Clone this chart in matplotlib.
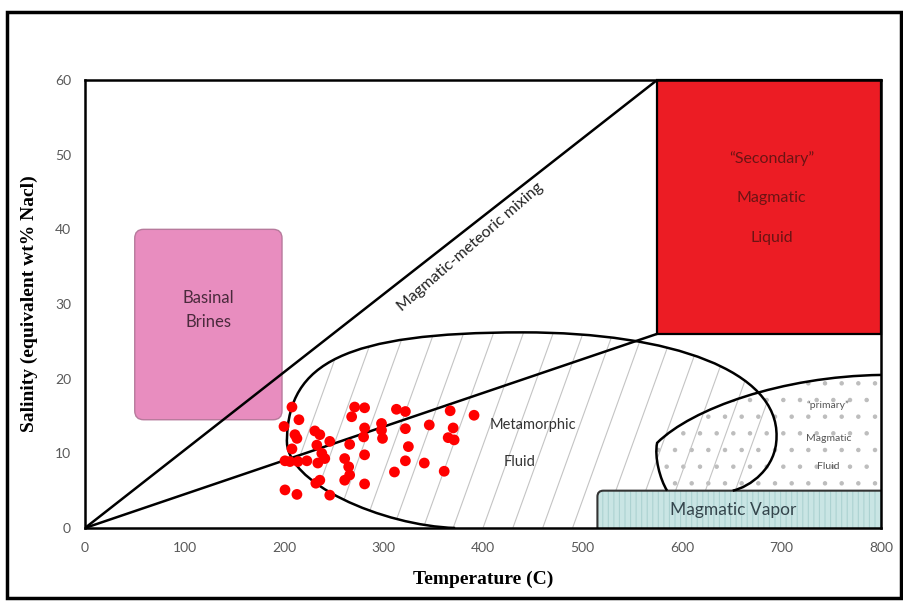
import numpy as np
import matplotlib
matplotlib.use("Agg")
import matplotlib.pyplot as plt
from matplotlib.path import Path
from matplotlib.patches import PathPatch, FancyBboxPatch, Rectangle
from matplotlib.collections import LineCollection

# fluid inclusion data: homogenisation temperature (C) and salinity (wt% NaCl eq.)
temp = [208, 215, 200, 211, 213, 208, 231, 236, 246, 233, 238, 241, 234, 201, 206,
        214, 223, 236, 232, 201, 213, 246, 271, 281, 268, 313, 322, 367, 391, 298,
        281, 280, 298, 299, 322, 346, 370, 365, 371, 266, 325, 261, 281, 265, 266,
        261, 322, 341, 311, 361, 281]
salinity = [16.2, 14.5, 13.6, 12.5, 12.0, 10.6, 13.0, 12.5, 11.6, 11.1, 10.0, 9.3, 8.7,
            9.0, 8.9, 8.9, 9.0, 6.4, 6.0, 5.1, 4.5, 4.4, 16.2, 16.1, 14.9, 15.9, 15.6,
            15.7, 15.1, 14.0, 13.4, 12.2, 13.1, 12.0, 13.3, 13.8, 13.4, 12.1, 11.8,
            11.2, 10.9, 9.3, 9.8, 8.2, 7.1, 6.4, 9.0, 8.7, 7.5, 7.6, 5.9]

x_ticks = [0, 100, 200, 300, 400, 500, 600, 700, 800]
y_ticks = [0, 10, 20, 30, 40, 50, 60]

# field boundaries (temperature, salinity)
mix_upper = [(0, 0), (575, 60)]
mix_lower = [(0, 0), (575, 26)]
secondary_box = (575, 26, 800, 60)      # x0, y0, x1, y1
brines_box = (50, 14.5, 198, 40)
vapor_box = (515, 0, 800, 5)

# metamorphic fluid outline, cubic bezier control points
meta_pts = [(372, 0), (300, 0.3), (199, 6.0), (203, 12),
            (205, 22), (260, 26.2), (440, 26.2),
            (590, 26.2), (697, 21), (695, 12.2),
            (695, 8), (668, 5.5), (651, 5)]
# "primary" magmatic fluid upper boundary
prim_pts = [(585, 5), (578, 6.5), (572, 9.5), (575, 11.4),
            (610, 16), (700, 20.3), (800, 20.5)]

C4 = Path.CURVE4

fig = plt.figure(figsize=(9.04, 6.03), dpi=100)
ax = fig.add_axes([85/904, 75/603, 796/904, 448/603])
ax.set_xlim(0, 800)
ax.set_ylim(0, 60)

asp = (796/800) / (448/60)   # data-y per data-x at equal pixel size

# primary magmatic fluid stipple
plt.rcParams['hatch.linewidth'] = 0.8
prim_fill = Path(prim_pts + [(800, 5), (585, 5), (585, 5)],
                 [Path.MOVETO, C4, C4, C4, C4, C4, C4, Path.LINETO, Path.LINETO, Path.CLOSEPOLY])
ax.add_patch(PathPatch(prim_fill, facecolor='white', edgecolor='#bdbdbd', lw=0,
                       hatch='.', zorder=1))

# metamorphic fluid hatching
meta_fill = Path(meta_pts + [(651, 0), (372, 0), (372, 0)],
                 [Path.MOVETO] + [C4] * 12 + [Path.LINETO, Path.LINETO, Path.CLOSEPOLY])
meta_patch = PathPatch(meta_fill, facecolor='none', edgecolor='none', lw=0)
ax.add_patch(meta_patch)
slope = 0.37
segs = [[(x0, 0), (x0 + 30/slope, 30)] for x0 in np.arange(-80, 760, 30)]
hatch = LineCollection(segs, colors='#c4c4c4', linewidths=0.8, zorder=1)
hatch.set_clip_path(meta_patch)
ax.add_collection(hatch)

# magmatic vapor
vx0, vy0, vx1, vy1 = vapor_box
ax.add_patch(FancyBboxPatch((vx0, vy0 - 3), vx1 - vx0 + 20, vy1 - vy0 + 3,
                            boxstyle='round,pad=0,rounding_size=6', mutation_aspect=asp,
                            facecolor='#c9e5e4', edgecolor='#acd2d1', lw=0,
                            hatch='|||', zorder=2))
ax.add_patch(FancyBboxPatch((vx0, vy0 - 3), vx1 - vx0 + 20, vy1 - vy0 + 3,
                            boxstyle='round,pad=0,rounding_size=6', mutation_aspect=asp,
                            facecolor='none', edgecolor='#333333', lw=1.5, zorder=2))

# basinal brines
bx0, by0, bx1, by1 = brines_box
ax.add_patch(FancyBboxPatch((bx0, by0), bx1 - bx0, by1 - by0,
                            boxstyle='round,pad=0,rounding_size=9', mutation_aspect=asp,
                            facecolor='#e88dbf', edgecolor='#b77a9c', lw=1, zorder=2))

# secondary magmatic liquid
sx0, sy0, sx1, sy1 = secondary_box
ax.add_patch(Rectangle((sx0, sy0), sx1 - sx0, sy1 - sy0, facecolor='#ec1c24',
                       edgecolor='black', lw=1.6, zorder=2, clip_on=False))

# boundary lines
for seg in (mix_upper, mix_lower):
    xs, ys = zip(*seg)
    ax.plot(xs, ys, color='black', lw=1.8, zorder=3)
ax.add_patch(PathPatch(Path(meta_pts, [Path.MOVETO] + [C4] * 12), facecolor='none',
                       edgecolor='black', lw=1.8, zorder=3))
ax.add_patch(PathPatch(Path(prim_pts, [Path.MOVETO] + [C4] * 6), facecolor='none',
                       edgecolor='black', lw=1.8, zorder=3))

# data
ax.scatter(temp, salinity, s=60, color='#ff0000', edgecolors='none', zorder=4)

# labels
sans = 'Lato'
ax.text(124, 30.8, 'Basinal', ha='center', va='center', fontsize=12, color='#4a2a3c',
        family=sans, zorder=5)
ax.text(124, 27.6, 'Brines', ha='center', va='center', fontsize=12, color='#4a2a3c',
        family=sans, zorder=5)
ax.text(690, 49.5, '\u201cSecondary\u201d', ha='center', va='center', fontsize=11.5,
        color='#6b1414', family=sans, zorder=5)
ax.text(690, 44.2, 'Magmatic', ha='center', va='center', fontsize=11.5,
        color='#6b1414', family=sans, zorder=5)
ax.text(690, 38.8, 'Liquid', ha='center', va='center', fontsize=11.5,
        color='#6b1414', family=sans, zorder=5)
ax.text(387, 37.6, 'Magmatic-meteoric mixing', ha='center', va='center', fontsize=11.5,
        rotation=41, rotation_mode='anchor', color='#222222', family=sans, zorder=5)
ax.text(450, 13.8, 'Metamorphic', ha='center', va='center', fontsize=10.5,
        color='#333333', family=sans, zorder=5)
ax.text(437, 8.8, 'Fluid', ha='center', va='center', fontsize=10.5,
        color='#333333', family=sans, zorder=5)
ax.text(747, 16.5, '\u201cprimary\u201d', ha='center', va='center', fontsize=7.5,
        color='#555555', family=sans, zorder=5)
ax.text(747, 12.0, 'Magmatic', ha='center', va='center', fontsize=7.5,
        color='#555555', family=sans, zorder=5)
ax.text(747, 8.2, 'Fluid', ha='center', va='center', fontsize=7.5,
        color='#555555', family=sans, zorder=5)
ax.text(651, 2.4, 'Magmatic Vapor', ha='center', va='center', fontsize=12.5,
        color='#34454c', family=sans, zorder=5)

# axes
ax.set_xticks(x_ticks)
ax.set_yticks(y_ticks)
ax.tick_params(length=0, pad=10, labelsize=10, labelcolor='#595959')
for lab in ax.get_xticklabels() + ax.get_yticklabels():
    lab.set_family(sans)
for sp in ax.spines.values():
    sp.set_linewidth(1.8)
    sp.set_color('black')
ax.set_xlabel('Temperature (C)', family='Liberation Serif', fontweight='bold',
              fontsize=14, labelpad=12)
ax.set_ylabel('Salinity (equivalent wt% Nacl)', family='Liberation Serif',
              fontweight='bold', fontsize=14, labelpad=12)

# outer frame
fig.add_artist(Rectangle((7/904, 5/603), 894/904, 586/603, transform=fig.transFigure,
                         fill=False, edgecolor='black', lw=2.5))

fig.savefig('out.png', dpi=100)
